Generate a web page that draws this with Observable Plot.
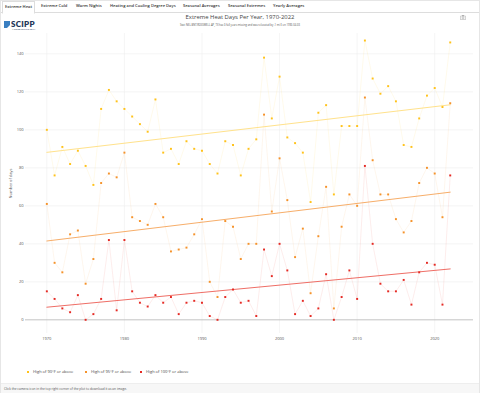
<!DOCTYPE html>
<html>
<head>
<meta charset="utf-8">
<script src="https://cdn.jsdelivr.net/npm/d3@7"></script>
<script src="https://cdn.jsdelivr.net/npm/@observablehq/plot@0.6"></script>
<style>
  html, body { margin: 0; padding: 0; }
  body { width: 480px; height: 393px; position: relative; overflow: hidden; background: #fff; font-family: "Open Sans", "Noto Sans", sans-serif; }
  .frame { position: absolute; left: 0; top: 0; width: 478px; height: 391px; border: 1px solid #e6e6e6; }
  .tabs { position: absolute; left: 1px; top: 1px; width: 478px; height: 11px; border-bottom: 1px solid #ddd; }
  .tab { position: absolute; top: 2px; font-size: 4.1px; color: #333; font-weight: 600; white-space: nowrap; }
  .tab.active { top: 0px; padding: 2px 2px 0 2px; height: 9px; border: 1px solid #ddd; border-bottom: 1px solid #fff; background: #fff; }
  .logo { position: absolute; left: 4px; top: 13px; }
  .title { position: absolute; left: 0; width: 480px; top: 13px; text-align: center; font-size: 5.9px; color: #444; }
  .subtitle { position: absolute; left: 0; width: 480px; top: 23px; text-align: center; font-size: 2.6px; color: #555; }
  #chart { position: absolute; left: 0; top: 30px; }
  .legend { position: absolute; top: 369px; left: 0; font-size: 4px; color: #444; white-space: nowrap; }
  .legend span.sw { display: inline-block; width: 2px; height: 2px; margin-right: 4px; vertical-align: middle; }
  .legend .item { position: absolute; }
  .footer { position: absolute; left: 1px; top: 383px; width: 478px; height: 9px; background: #f7f7f7; border-top: 1px solid #eee; }
  .footer div { position: absolute; left: 3px; top: 2.5px; font-size: 3.2px; color: #555; white-space: nowrap; }
</style>
</head>
<body>
<div class="frame"></div>
<div class="tabs">
  <div class="tab active" style="left:1px">Extreme Heat</div>
  <div class="tab" style="left:40px">Extreme Cold</div>
  <div class="tab" style="left:75px">Warm Nights</div>
  <div class="tab" style="left:109px">Heating and Cooling Degree Days</div>
  <div class="tab" style="left:182px">Seasonal Averages</div>
  <div class="tab" style="left:227px">Seasonal Extremes</div>
  <div class="tab" style="left:272px">Yearly Averages</div>
</div>
<div class="logo">
  <svg width="46" height="10" viewBox="0 0 46 10">
    <path d="M0,1 L6,1 L6,5 L3,8 L0,8 Z" fill="#3a7fc1"/>
    <text x="7" y="6.5" font-size="8" font-weight="800" fill="#1d3557" font-family="Lato, sans-serif" letter-spacing="0.3">SCIPP</text>
    <text x="8" y="9.6" font-size="2" fill="#1d3557" font-family="Lato, sans-serif">A WORD FOR THE TEAM</text>
  </svg>
</div>
<div class="title">Extreme Heat Days Per Year, 1970-2022</div>
<div class="subtitle">Stat: NEL.BNT.ROSSWELL AP, TX has 0 full years missing and was relocated by .1 mi E on 1990-04-03</div>
<svg style="position:absolute;left:460px;top:15px" width="6" height="5" viewBox="0 0 6 5">
  <rect x="0.3" y="1" width="5.4" height="3.7" rx="0.6" fill="none" stroke="#999" stroke-width="0.5"/>
  <rect x="2" y="0.3" width="2" height="0.9" fill="#999"/>
  <circle cx="3" cy="2.9" r="1" fill="none" stroke="#999" stroke-width="0.5"/>
</svg>
<div id="chart"></div>
<div class="legend">
  <div class="item" style="left:27px"><span class="sw" style="background:#FFC21A"></span>High of 90°F or above</div>
  <div class="item" style="left:85px"><span class="sw" style="background:#F5922A"></span>High of 95°F or above</div>
  <div class="item" style="left:140px"><span class="sw" style="background:#E52A24"></span>High of 100°F or above</div>
</div>
<div class="footer"><div>Click the camera icon in the top right corner of the plot to download it as an image.</div></div>
<script>
const years = [1970,1971,1972,1973,1974,1975,1976,1977,1978,1979,1980,1981,1982,1983,1984,1985,1986,1987,1988,1989,1990,1991,1992,1993,1994,1995,1996,1997,1998,1999,2000,2001,2002,2003,2004,2005,2006,2007,2008,2009,2010,2011,2012,2013,2014,2015,2016,2017,2018,2019,2020,2021,2022];
const hot90 = [100,76,91,82,89,81,71,111,121,115,111,107,103, 99,116,88,90,82,94,90,89,82,77,94,92,76, 90,95,138,106,128,96,93,88,62,109,113,66,102, 102,102,147,127,119,123,115,92,91,106,118,122,112,146];
const hot95 = [61,30,25,45,47,19,32,72,77,75,88,54,52, 50,61,54,36,37,38,45,53,20,12,52,49,32, 40,40,108,57,85,63,33,48,14,44,70,6,49, 66,60,117,84,66,66,53,46,52,72,80,77,54,114];
const hot100 = [15,11,6,4,13,0,3,11,42,5,42,15,9, 7,13,9,12,3,9,10,9,2,0,12,16,9, 10,2,37,23,40,26,3,10,2,6,24,0,12, 26,11,81,40,19,15,15,21,8,25,30,29,8,76];
const seriesNames = ["High of 90°F or above", "High of 95°F or above", "High of 100°F or above"];
const pointColors = ["#FFC21A", "#F5922A", "#E52A24"];
const trendColors = ["#FFE28C", "#F7AE6A", "#EF6E66"];
const xTicks = [1970, 1980, 1990, 2000, 2010, 2020];
const yTicks = [0, 20, 40, 60, 80, 100, 120, 140];

const valuesBySeries = [hot90, hot95, hot100];
const data = [];
valuesBySeries.forEach((vals, i) => vals.forEach((v, j) => data.push({year: years[j], days: v, series: seriesNames[i]})));

const marks = [
  Plot.gridX(xTicks, {stroke: "#eee", strokeOpacity: 1, strokeWidth: 0.6}),
  Plot.gridY(yTicks.filter(d => d > 0), {stroke: "#eee", strokeOpacity: 1, strokeWidth: 0.6}),
  Plot.ruleY([0], {stroke: "#bdbdbd", strokeWidth: 0.9}),
  Plot.axisX(xTicks, {tickSize: 0, tickPadding: 4, fontSize: 4, fill: "#555", tickFormat: d => String(d), label: null}),
  Plot.axisY(yTicks, {tickSize: 0, tickPadding: 2, fontSize: 4, fill: "#555", label: null}),
  Plot.text(["Number of days"], {frameAnchor: "left", dx: -15, dy: 0, rotate: -90, textAnchor: "middle", fontSize: 4, fill: "#555"})
];
seriesNames.forEach((name, i) => {
  const d = data.filter(r => r.series === name);
  marks.push(Plot.line(d, {x: "year", y: "days", stroke: pointColors[i], strokeOpacity: 0.15, strokeWidth: 0.6}));
});
seriesNames.forEach((name, i) => {
  const d = data.filter(r => r.series === name);
  marks.push(Plot.linearRegressionY(d, {x: "year", y: "days", stroke: trendColors[i], strokeWidth: 1, ci: 0}));
});
seriesNames.forEach((name, i) => {
  const d = data.filter(r => r.series === name);
  marks.push(Plot.dot(d, {x: "year", y: "days", fill: pointColors[i], r: 1.1, symbol: "square", stroke: "none"}));
});

const chart = Plot.plot({
  width: 480,
  height: 315,
  marginLeft: 25,
  marginRight: 7,
  marginTop: 3,
  marginBottom: 12,
  x: {domain: [1967.25, 2025], axis: null},
  y: {domain: [-7.2, 150.7], axis: null},
  style: {background: "transparent", fontFamily: "Open Sans, sans-serif"},
  marks
});
document.getElementById("chart").appendChild(chart);
</script>
</body>
</html>
